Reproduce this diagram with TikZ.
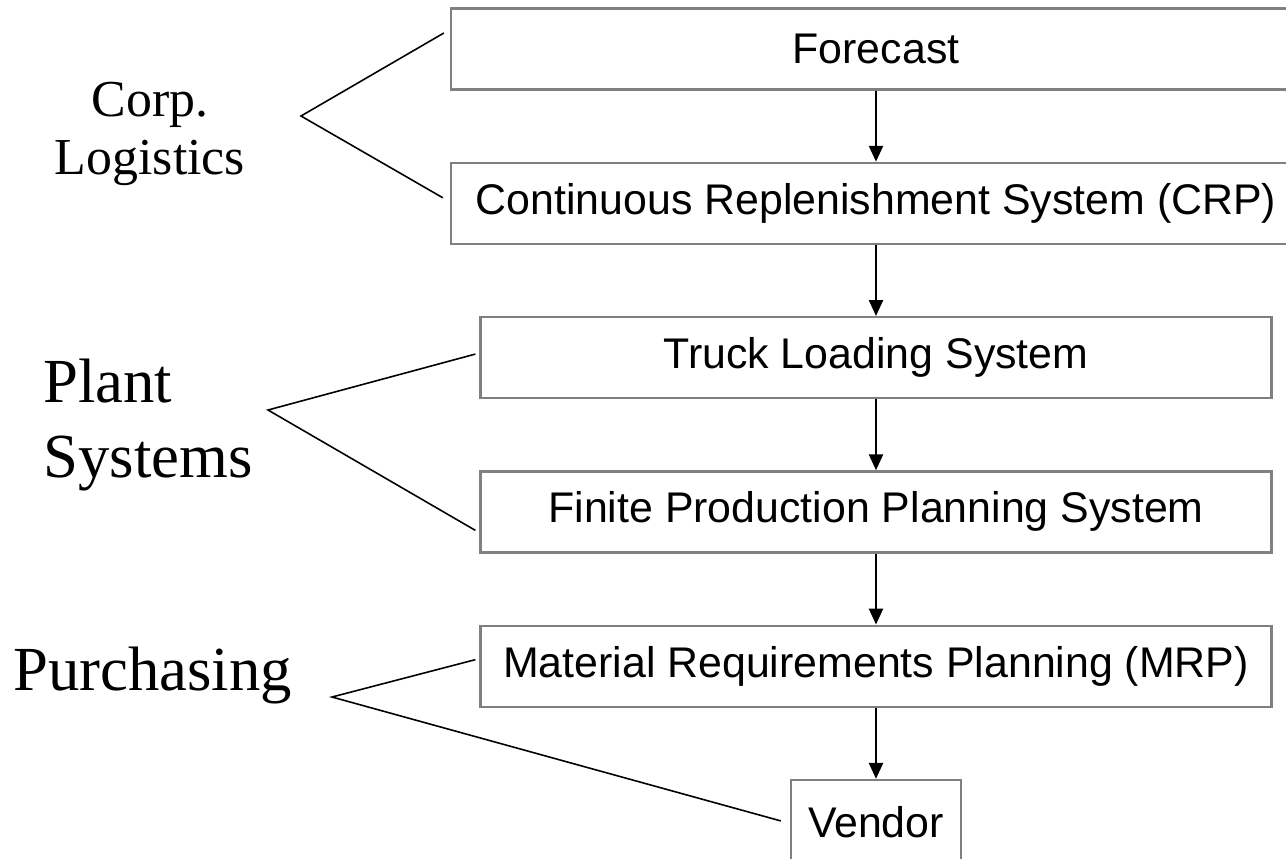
\documentclass[tikz,border=0pt]{standalone}
\usepackage{fontspec}
\setmainfont{Liberation Serif}
\setsansfont{Liberation Sans}
\usetikzlibrary{positioning,calc,arrows.meta}
\tikzset{>={Triangle[length=9pt,width=8pt]}}

\begin{document}
\begin{tikzpicture}[
    node distance=1.42cm,
    sysbox/.style={rectangle, draw=gray, line width=1.3pt, minimum height=1.62cm, inner sep=0pt,
                   font=\sffamily\fontsize{24.4}{29}\selectfont},
    group/.style={inner sep=0pt, font=\fontsize{35.7}{43}\selectfont},
    brace/.style={line width=0.9pt}
]
\useasboundingbox (0,0) rectangle (25.72,-17.16);

\node[sysbox, minimum width=17cm] (fc) at (17.52,-0.98) {Forecast};
\node[sysbox, minimum width=17cm, below=of fc] (crp) {Continuous Replenishment System (CRP)};
\node[sysbox, minimum width=15.82cm, below=of crp] (tls) {Truck Loading System};
\node[sysbox, minimum width=15.82cm, below=of tls] (fpp) {Finite Production Planning System};
\node[sysbox, minimum width=15.82cm, below=of fpp] (mrp) {Material Requirements Planning (MRP)};
\node[sysbox, minimum width=3.4cm, minimum height=1.68cm, below=of mrp] (vendor) {Vendor};

\draw[->, line width=1.1pt] (fc) -- (crp);
\draw[->, line width=1.1pt] (crp) -- (tls);
\draw[->, line width=1.1pt] (tls) -- (fpp);
\draw[->, line width=1.1pt] (fpp) -- (mrp);
\draw[->, line width=1.1pt] (mrp) -- (vendor);

% groups on the left
\node[inner sep=0pt, align=center, font=\fontsize{29.5}{33}\selectfont] (corp) at (3.0,-2.68) {Corp.\\Logistics};
\node[group, align=left, anchor=west] (plant) at (0.86,-8.5) {Plant\\Systems};
\node[group, anchor=base west] (purch) at (0.26,-13.8) {Purchasing};

\coordinate (corp tip) at (6.02,-2.32);
\coordinate (plant tip) at (5.36,-8.2);
\coordinate (purch tip) at (6.64,-13.94);

\draw[brace] ($(fc.west)+(-0.12,0.32)$) -- (corp tip) -- ($(crp.west)+(-0.14,0.11)$);
\draw[brace] ($(tls.west)+(-0.08,0.07)$) -- (plant tip) -- ($(fpp.west)+(-0.08,-0.37)$);
\draw[brace] ($(mrp.west)+(-0.08,0.13)$) -- (purch tip) -- ($(vendor.west)+(-0.18,0.02)$);
\end{tikzpicture}
\end{document}
